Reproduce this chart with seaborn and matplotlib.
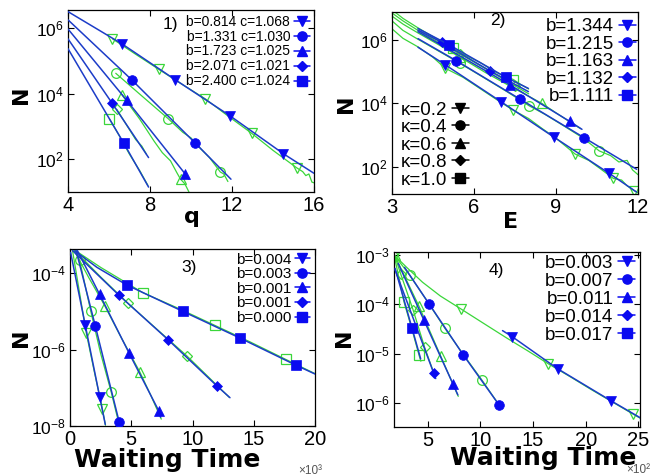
import numpy as np
import pandas as pd
import matplotlib
matplotlib.use("Agg")
import matplotlib.pyplot as plt
import seaborn as sns
from matplotlib.lines import Line2D
from matplotlib.ticker import FixedLocator, LogFormatterSciNotation, NullLocator

# ======================= DATA (x values, log10 N) =======================
# ---- Panel 1: N vs q ----
p1_labels = ["b=0.814 c=1.068", "b=1.331 c=1.030", "b=1.723 c=1.025",
             "b=2.071 c=1.021", "b=2.400 c=1.024"]
p1_fit_x = [[4, 6.65, 9.24, 11.91, 14.5, 16],
            [4, 7.11, 10.21, 11.95],
            [4, 6.86, 9.73, 9.9],
            [4, 6.14, 7.93],
            [4, 6.73, 7.93]]
p1_fit_logN = [[6.50, 5.51, 4.42, 3.32, 2.17, 1.57],
               [6.25, 4.42, 2.49, 1.39],
               [5.97, 3.80, 1.54, 1.39],
               [5.67, 3.72, 2.05],
               [5.37, 2.48, 1.15]]
p1_data_x = [[6.17, 7.3, 8.43, 9.6, 10.7, 11.8, 12.96, 14.0, 15.15, 15.45, 15.6, 15.75, 15.9, 16.0],
             [6.33, 7.6, 8.88, 9.6, 10.0, 10.5, 10.9, 11.43, 11.6, 11.8],
             [6.62, 7.5, 8.2, 8.6, 9.0, 9.3, 9.49, 9.7, 9.9],
             [6.38, 6.9, 7.3, 7.6, 7.83],
             [6.02, 6.5, 7.0, 7.5, 7.9]]
p1_data_logN = [[5.67, 5.20, 4.74, 4.27, 3.84, 3.32, 2.79, 2.27, 1.74, 1.62, 1.50, 1.55, 1.30, 1.28],
                [4.62, 3.93, 3.24, 2.82, 2.65, 2.30, 2.05, 1.61, 1.55, 1.32],
                [3.97, 3.22, 2.55, 2.20, 1.95, 1.60, 1.39, 1.25, 1.00],
                [3.52, 3.00, 2.60, 2.40, 2.15],
                [3.23, 2.72, 2.15, 1.65, 1.20]]

# ---- Panel 2: N vs E ----
p2_labels = ["b=1.344", "b=1.215", "b=1.163", "b=1.132", "b=1.111"]
p2_kappa_labels = ["\u03ba=0.2", "\u03ba=0.4", "\u03ba=0.6", "\u03ba=0.8", "\u03ba=1.0"]
p2_fit_x = [[3.95, 4.94, 6.99, 8.93, 10.93, 11.95],
            [3.95, 5.34, 7.69, 10.04, 11.95],
            [3.95, 7.32, 9.5, 9.95],
            [3.95, 4.82, 6.59, 7.99],
            [3.95, 5.1, 7.17, 7.99]]
p2_fit_logN = [[5.77, 5.22, 4.05, 2.93, 1.80, 1.20],
               [6.04, 5.35, 4.13, 2.91, 1.92],
               [6.26, 4.58, 3.43, 3.18],
               [6.31, 5.92, 5.02, 4.37],
               [6.36, 5.84, 4.82, 4.47]]
p2_data_x = [[3.0, 3.4, 3.95, 4.5, 4.94, 5.6, 6.3, 7.0, 7.42, 8.0, 8.5, 9.0, 9.7, 10.2, 10.6, 11.1, 11.4, 11.6, 11.85, 12.0],
             [3.0, 3.4, 3.95, 4.6, 5.49, 6.3, 7.2, 8.02, 8.6, 9.3, 10.0, 10.58, 11.0, 11.3, 11.6, 11.8, 12.0],
             [3.0, 3.4, 3.95, 4.6, 5.5, 6.4, 7.3, 8.48, 9.0, 9.5, 9.9],
             [3.0, 3.4, 3.95, 4.6, 5.5, 6.3, 7.0, 7.5, 8.0],
             [3.0, 3.4, 3.95, 4.5, 5.24, 5.6, 6.2, 6.8, 7.44, 7.7, 8.0]]
p2_data_logN = [[6.35, 6.05, 5.78, 5.45, 5.11, 4.82, 4.42, 4.02, 3.79, 3.52, 3.20, 2.90, 2.40, 2.20, 1.95, 1.63, 1.58, 1.40, 1.25, 1.18],
                [6.60, 6.30, 6.02, 5.70, 5.26, 4.84, 4.37, 3.92, 3.65, 3.28, 2.90, 2.50, 2.35, 2.15, 2.20, 1.90, 1.75],
                [6.75, 6.50, 6.22, 5.90, 5.45, 4.98, 4.55, 4.00, 3.70, 3.42, 3.20],
                [6.85, 6.60, 6.30, 5.97, 5.55, 5.15, 4.80, 4.55, 4.30],
                [6.95, 6.68, 6.38, 6.10, 5.75, 5.55, 5.30, 4.98, 4.75, 4.60, 4.45]]

# ---- Panel 3: N vs waiting time (x10^3) ----
p3_labels = ["b=0.004", "b=0.003", "b=0.001", "b=0.001", "b=0.000"]
p3_fit_x = [[0.05, 1.25, 2.42, 2.88],
            [0.5, 2.07, 4.02],
            [0.6, 2.42, 4.82, 7.24, 7.4],
            [0.2, 4.0, 8.03, 12.02, 13.06],
            [0.4, 2.2, 4.63, 9.2, 13.88, 18.45, 20.0]]
p3_fit_logN = [[-3.46, -5.37, -7.23, -7.96],
               [-3.41, -5.39, -7.90],
               [-3.41, -4.56, -6.09, -7.60, -7.77],
               [-3.41, -4.58, -5.75, -6.96, -7.26],
               [-3.42, -3.85, -4.31, -5.00, -5.70, -6.41, -6.64]]
p3_data_x = [[0.2, 1.33, 2.0, 2.64, 2.9],
             [0.3, 0.79, 1.69, 2.5, 3.37, 4.0],
             [0.3, 1.5, 2.83, 4.2, 5.69, 6.6, 7.45],
             [0.3, 2.5, 4.73, 7.1, 9.52, 11.5, 13.0],
             [0.3, 2.5, 5.93, 8.9, 11.84, 14.7, 17.63, 20.0]]
p3_data_logN = [[-3.40, -5.57, -6.60, -7.55, -7.98],
                [-3.38, -3.67, -4.99, -6.10, -7.12, -7.95],
                [-3.38, -4.10, -4.85, -5.70, -6.58, -7.20, -7.82],
                [-3.38, -4.10, -4.79, -5.47, -6.16, -6.78, -7.25],
                [-3.38, -3.85, -4.51, -4.93, -5.37, -5.80, -6.26, -6.63]]

# ---- Panel 4: N vs waiting time (x10^2) ----
p4_labels = ["b=0.003", "b=0.007", "b=0.011", "b=0.014", "b=0.017"]
p4_fit_x = [[12.1, 13.0, 17.32, 22.4, 25.15],
            [2.8, 5.13, 8.37, 11.76],
            [2.2, 4.62, 7.42, 7.86],
            [1.9, 5.57, 5.76],
            [1.9, 3.51, 4.33]]
p4_fit_logN = [[-4.53, -4.65, -5.30, -5.95, -6.29],
               [-3.25, -3.99, -5.02, -6.03],
               [-3.17, -4.31, -5.62, -5.83],
               [-3.30, -5.39, -5.50],
               [-3.27, -4.48, -5.10]]
p4_data_x = [[1.86, 3.0, 4.5, 6.2, 8.14, 10.5, 12.5, 14.5, 16.43, 18.5, 20.5, 22.5, 24.5, 25.15],
             [1.86, 3.29, 5.0, 6.62, 8.4, 10.11, 11.5],
             [1.86, 4.18, 6.24, 7.45, 7.9],
             [1.86, 2.43, 3.61, 4.71, 5.6],
             [1.86, 2.75, 3.5, 4.18, 4.35]]
p4_data_logN = [[-3.01, -3.25, -3.55, -3.83, -4.09, -4.41, -4.68, -4.94, -5.20, -5.46, -5.72, -5.97, -6.22, -6.30],
                [-3.01, -3.41, -3.95, -4.48, -5.02, -5.52, -5.95],
                [-3.01, -4.04, -5.05, -5.64, -5.86],
                [-3.01, -3.38, -4.11, -4.87, -5.40],
                [-3.05, -3.95, -4.50, -5.03, -5.15]]

# ======================= STYLE =======================
sns.set_theme(style="ticks")
plt.rcParams["font.family"] = ["Liberation Sans", "DejaVu Sans"]
plt.rcParams["mathtext.fontset"] = "custom"
plt.rcParams["mathtext.rm"] = "Liberation Sans"
plt.rcParams["mathtext.it"] = "Liberation Sans:italic"
plt.rcParams["mathtext.bf"] = "Liberation Sans:bold"
for k in ["text.color", "axes.labelcolor", "xtick.color", "ytick.color", "axes.edgecolor"]:
    plt.rcParams[k] = "black"

BLUE_LINE = "#1c3cc8"
BLUE_MK = "#0a0af0"
GREEN = "#3ad63a"
MARKERS = ["v", "o", "^", "D", "s"]
MS = {"v": 7, "o": 7, "^": 7, "D": 5.5, "s": 7.5}

fit_mk = {
    1: [[1, 2, 3, 4], [1, 2], [1, 2], [1], [1]],
    2: [[1, 2, 3, 4], [1, 2, 3], [1, 2], [1, 2], [1, 2]],
    3: [[1, 2], [1, 2], [1, 2, 3], [1, 2, 3], [2, 3, 4, 5]],
    4: [[1, 2, 3], [1, 2, 3], [1, 2], [1], [1]],
}
data_mk = {
    1: [[0, 2, 4, 6, 8], [0, 2, 7], [0, 6], [0], [0]],
    2: [[4, 8, 12, 15, 18], [4, 7, 11], [4, 7], [4, 7], [4, 8]],
    3: [[1, 3], [1, 2, 4], [2, 4], [2, 4], [2, 4, 6]],
    4: [[0, 4, 8, 12], [1, 3, 5], [0, 1, 2], [1, 2, 3], [1, 3]],
}


def draw(ax, xs, ys, mk_idx, filled):
    for x, ly, idx, m in zip(xs, ys, mk_idx, MARKERS):
        df = pd.DataFrame({"x": x, "N": np.power(10.0, np.asarray(ly, float))})
        if filled:
            kw = dict(color=BLUE_LINE, lw=1.1, markerfacecolor=BLUE_MK,
                      markeredgecolor=BLUE_MK, markeredgewidth=0.5, zorder=3)
        else:
            kw = dict(color=GREEN, lw=0.9, markerfacecolor="none",
                      markeredgecolor=GREEN, markeredgewidth=0.9, zorder=2)
        sns.lineplot(data=df, x="x", y="N", ax=ax, estimator=None, sort=False,
                     errorbar=None, legend=False, marker=m, markevery=idx,
                     markersize=MS[m], **kw)


def add_legend(ax, labels, color, fs, loc, anchor, hl=1.0, ls=0.1):
    handles = [Line2D([], [], color=color, lw=1.1, marker=m, markersize=MS[m] * 0.95,
                      markerfacecolor=color, markeredgecolor=color) for m in MARKERS]
    return ax.legend(handles, labels, loc=loc, bbox_to_anchor=anchor, frameon=False,
                     markerfirst=False, fontsize=fs, labelspacing=ls,
                     handlelength=hl, handletextpad=0.25, borderpad=0.0,
                     borderaxespad=0.0)


def setup(ax, xlim, ylog, xticks, yticks, xfs=14.5, yfs=12.5):
    ax.set_yscale("log")
    ax.set_xlim(*xlim)
    ax.set_ylim(10 ** ylog[0], 10 ** ylog[1])
    ax.xaxis.set_major_locator(FixedLocator(xticks))
    ax.yaxis.set_major_locator(FixedLocator([10.0 ** t for t in yticks]))
    ax.yaxis.set_major_formatter(LogFormatterSciNotation())
    ax.yaxis.set_minor_locator(NullLocator())
    ax.xaxis.set_minor_locator(NullLocator())
    ax.tick_params(direction="in", top=True, right=True, length=4, width=0.8, pad=3,
                   colors="black")
    ax.tick_params(axis="x", labelsize=xfs)
    ax.tick_params(axis="y", labelsize=yfs)
    for s in ax.spines.values():
        s.set_linewidth(0.9)
        s.set_color("black")


fig = plt.figure(figsize=(6.52, 4.76), dpi=100)
W, H = 652.0, 476.0
ax1 = fig.add_axes([68 / W, 1 - 192 / H, 246 / W, 182 / H])
ax2 = fig.add_axes([392 / W, 1 - 194 / H, 246 / W, 182 / H])
ax3 = fig.add_axes([70 / W, 1 - 426 / H, 245 / W, 177 / H])
ax4 = fig.add_axes([394 / W, 1 - 427 / H, 246 / W, 175 / H])

setup(ax1, (4, 16), (1.0, 6.55), [4, 8, 12, 16], [2, 4, 6])
setup(ax2, (3, 12), (1.14, 6.88), [3, 6, 9, 12], [2, 4, 6])
setup(ax3, (0, 20), (-8.0, -3.37), [0, 5, 10, 15, 20], [-8, -6, -4])
setup(ax4, (1.8, 25.15), (-6.48, -2.94), [5, 10, 15, 20, 25], [-6, -5, -4, -3])

for ax, n in [(ax1, 1), (ax2, 2), (ax3, 3), (ax4, 4)]:
    fx = {1: p1_fit_x, 2: p2_fit_x, 3: p3_fit_x, 4: p4_fit_x}[n]
    fy = {1: p1_fit_logN, 2: p2_fit_logN, 3: p3_fit_logN, 4: p4_fit_logN}[n]
    dx = {1: p1_data_x, 2: p2_data_x, 3: p3_data_x, 4: p4_data_x}[n]
    dy = {1: p1_data_logN, 2: p2_data_logN, 3: p3_data_logN, 4: p4_data_logN}[n]
    draw(ax, dx, dy, data_mk[n], filled=False)
    draw(ax, fx, fy, fit_mk[n], filled=True)

# legends
add_legend(ax1, p1_labels, BLUE_MK, 10, "upper right", (0.985, 0.975), hl=1.2, ls=0.07)
leg2 = add_legend(ax2, p2_labels, BLUE_MK, 13.5, "upper right", (0.99, 0.965), hl=0.9, ls=0.02)
ax2.add_artist(leg2)
add_legend(ax2, p2_kappa_labels, "black", 13.5, "lower left", (0.035, 0.03), hl=0.9, ls=0.02)
add_legend(ax3, p3_labels, BLUE_MK, 11, "upper right", (0.98, 0.98), hl=1.0, ls=0.04)
add_legend(ax4, p4_labels, BLUE_MK, 13.5, "upper right", (0.98, 0.985), hl=0.9, ls=0.05)

# panel numbers
for ax, txt, pos in [(ax1, "1)", (0.417, 0.919)), (ax2, "2)", (0.43, 0.955)),
                     (ax3, "3)", (0.486, 0.893)), (ax4, "4)", (0.417, 0.894))]:
    ax.text(pos[0], pos[1], txt, transform=ax.transAxes, ha="center", va="center",
            fontsize=12.5)

# axis labels
lab = dict(fontweight="bold", family="DejaVu Sans")
for ax, cx, cy in [(ax1, -0.152, 0.533), (ax2, -0.148, 0.495),
                   (ax3, -0.161, 0.5), (ax4, -0.163, 0.51)]:
    ax.set_ylabel("N", fontsize=16, **lab)
    ax.yaxis.set_label_coords(cx, cy)
ax1.set_xlabel("q", fontsize=16, **lab)
ax1.xaxis.set_label_coords(0.503, -0.085)
ax2.set_xlabel("E", fontsize=16, **lab)
ax2.xaxis.set_label_coords(0.48, -0.1)
ax3.set_xlabel("Waiting Time", fontsize=18, **lab)
ax3.xaxis.set_label_coords(0.396, -0.125)
ax4.set_xlabel("Waiting Time", fontsize=18, **lab)
ax4.xaxis.set_label_coords(0.608, -0.11)

ax3.text(1.03, -0.255, "\u00d710\u00b3", transform=ax3.transAxes, ha="right",
         va="center", fontsize=8.5, color="#555555")
ax4.text(1.04, -0.245, "\u00d710\u00b2", transform=ax4.transAxes, ha="right",
         va="center", fontsize=8.5, color="#555555")

fig.savefig("out.png", dpi=100)
